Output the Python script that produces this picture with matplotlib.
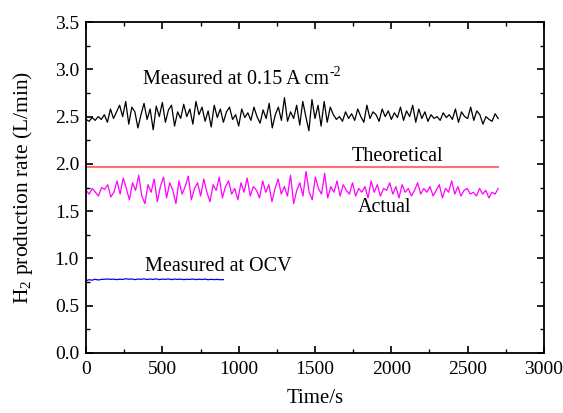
import numpy as np
import matplotlib
matplotlib.use("Agg")
import matplotlib.pyplot as plt
from matplotlib.ticker import MultipleLocator, FormatStrFormatter

plt.rcParams['font.family'] = ['Liberation Serif', 'DejaVu Serif']
plt.rcParams['mathtext.fontset'] = 'custom'
plt.rcParams['mathtext.rm'] = 'Liberation Serif'
plt.rcParams['mathtext.it'] = 'Liberation Serif:italic'

# Data
measured_015 = [2.47,2.45,2.49,2.46,2.50,2.47,2.52,2.44,2.58,2.48,2.55,2.62,2.50,2.66,2.42,2.60,2.55,2.38,2.52,2.64,
                2.47,2.58,2.36,2.61,2.50,2.65,2.44,2.57,2.62,2.40,2.55,2.48,2.63,2.50,2.58,2.42,2.66,2.52,2.60,2.45,
                2.56,2.39,2.62,2.49,2.58,2.44,2.55,2.60,2.47,2.52,2.40,2.58,2.49,2.54,2.46,2.60,2.50,2.43,2.57,2.48,
                2.64,2.38,2.52,2.60,2.46,2.70,2.45,2.55,2.48,2.62,2.41,2.66,2.50,2.35,2.68,2.48,2.62,2.40,2.66,2.44,
                2.60,2.52,2.47,2.50,2.45,2.55,2.48,2.53,2.46,2.58,2.50,2.44,2.62,2.48,2.55,2.52,2.45,2.58,2.50,2.56,
                2.47,2.54,2.49,2.60,2.46,2.56,2.50,2.62,2.44,2.58,2.48,2.55,2.45,2.52,2.48,2.50,2.46,2.54,2.49,2.52,
                2.47,2.58,2.44,2.55,2.50,2.48,2.60,2.46,2.56,2.52,2.42,2.50,2.47,2.45,2.53,2.48]
actual = [1.72,1.68,1.74,1.70,1.66,1.75,1.73,1.78,1.65,1.70,1.82,1.68,1.85,1.74,1.62,1.80,1.72,1.88,1.66,1.58,
          1.78,1.70,1.84,1.60,1.76,1.86,1.64,1.80,1.72,1.58,1.82,1.68,1.76,1.87,1.62,1.74,1.80,1.66,1.84,1.70,
          1.60,1.78,1.72,1.86,1.64,1.76,1.82,1.68,1.74,1.62,1.80,1.70,1.85,1.66,1.76,1.72,1.64,1.82,1.70,1.78,
          1.60,1.74,1.84,1.68,1.76,1.66,1.88,1.58,1.72,1.80,1.66,1.92,1.70,1.62,1.86,1.74,1.68,1.90,1.64,1.76,
          1.70,1.82,1.66,1.78,1.72,1.68,1.80,1.66,1.74,1.70,1.76,1.64,1.82,1.70,1.78,1.66,1.74,1.72,1.80,1.68,
          1.76,1.64,1.78,1.70,1.74,1.66,1.72,1.80,1.68,1.74,1.70,1.76,1.66,1.72,1.78,1.64,1.74,1.70,1.82,1.68,
          1.76,1.66,1.72,1.74,1.68,1.70,1.66,1.74,1.68,1.72,1.64,1.70,1.68,1.74]
ocv = [0.765,0.775,0.770,0.780,0.772,0.778,0.780,0.782,0.779,0.781,0.776,0.780,0.778,0.785,0.780,0.783,
       0.776,0.782,0.779,0.784,0.777,0.782,0.778,0.784,0.776,0.781,0.779,0.783,0.776,0.782,0.778,0.781,
       0.776,0.780,0.778,0.782,0.776,0.780,0.777,0.781,0.775,0.779,0.776,0.778,0.775,0.776]
theoretical = [1.97, 1.97]

t_end_main = 2700
t_end_ocv = 900

t_main = np.linspace(0, t_end_main, len(measured_015))
t_act = np.linspace(0, t_end_main, len(actual))
t_ocv = np.linspace(0, t_end_ocv, len(ocv))
t_theo = [0, t_end_main]

fig = plt.figure(figsize=(5.63, 4.13), dpi=100)
ax = fig.add_axes([0.1528, 0.1453, 0.8134, 0.8014])

ax.plot(t_main, measured_015, color='black', lw=0.9)
ax.plot(t_theo, theoretical, color='#ff7070', lw=1.5)
ax.plot(t_act, actual, color='#ff00ff', lw=0.9)
ax.plot(t_ocv, ocv, color='#0000ff', lw=0.9)

ax.set_xlim(0, 3000)
ax.set_ylim(0, 3.5)
ax.xaxis.set_major_locator(MultipleLocator(500))
ax.xaxis.set_minor_locator(MultipleLocator(250))
ax.yaxis.set_major_locator(MultipleLocator(0.5))
ax.yaxis.set_minor_locator(MultipleLocator(0.25))
ax.yaxis.set_major_formatter(FormatStrFormatter('%.1f'))
ax.tick_params(which='major', direction='in', length=5, width=1.2, labelsize=14)
ax.tick_params(which='minor', direction='in', length=3, width=1.0)
ax.tick_params(axis='x', which='both', top=True, labeltop=False)
ax.tick_params(axis='y', which='both', right=True, labelright=False)
ax.tick_params(axis='x', which='both', pad=6)
ax.tick_params(axis='y', which='both', pad=5)
for s in ax.spines.values():
    s.set_linewidth(1.3)

ax.set_xlabel('Time/s', fontsize=15, labelpad=8)
ax.set_ylabel('H$_2$ production rate (L/min)', fontsize=15.5, labelpad=14)

fs = 14.5
t1 = ax.text(373, 2.89, 'Measured at 0.15 A cm', fontsize=fs, va='center', ha='left')
fig.canvas.draw()
bb = t1.get_window_extent()
ax.annotate('-2', xy=(bb.x1 + 1, bb.y1 - 9), xycoords='figure pixels',
            fontsize=10, ha='left', va='bottom')
ax.text(1742, 2.08, 'Theoretical', fontsize=fs, va='center', ha='left')
ax.text(1780, 1.54, 'Actual', fontsize=fs, va='center', ha='left')
ax.text(386, 0.91, 'Measured at OCV', fontsize=fs, va='center', ha='left')

fig.savefig('out.png', dpi=100)
